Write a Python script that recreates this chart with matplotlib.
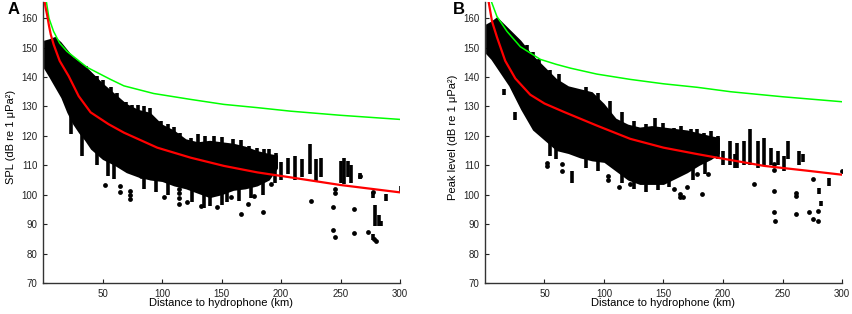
import numpy as np
import matplotlib
matplotlib.use("Agg")
import matplotlib.pyplot as plt

plt.rcParams['font.family'] = ['Liberation Sans', 'DejaVu Sans']

# ---- panel A (SPL) ----
a_red_km = [0.8, 2, 3.5, 5, 6.5, 9, 14, 21.6, 30, 40, 55, 68, 96, 124, 152, 180, 208, 250, 300]
a_red_db = [167, 164, 161, 157.5, 154.5, 151, 145.5, 140.3, 133.5, 128, 124, 121.1, 116, 112.6, 109.8, 107.6, 105.9, 103.3, 100.8]
a_grn_km = [2.8, 5, 8.9, 14, 20.2, 37, 56.7, 68, 93, 124, 152, 180, 208, 250, 300]
a_grn_db = [165.7, 160, 155.5, 151.5, 148.7, 143.3, 139.2, 137, 134.4, 132.4, 130.7, 129.6, 128.4, 127, 125.6]

# dense part of the cloud: distance, lower and upper edge
a_core_km = [0.5, 5, 10, 15, 20, 25, 30, 35, 40, 50, 60, 70, 80, 90, 100, 110, 120, 130, 140, 150, 160, 170, 180, 190, 197]
a_core_lo = [143, 140, 136.5, 133, 128, 124, 121, 118.5, 115.5, 112, 110, 107.5, 106, 105, 104.5, 103, 102, 100.5, 99, 100, 101.5, 102, 103, 105, 109]
a_core_hi = [152.5, 153, 153.8, 152, 149.5, 147, 145.5, 144, 142, 138, 134.5, 131, 129, 128, 124, 122, 119, 118, 118.5, 118, 117.5, 116.5, 115, 114, 113.5]

# vertical streaks of points: distance, low, high
a_streak_km = [23.5, 33, 36, 70, 75, 90, 99, 124, 143.6, 160, 166, 173, 186, 196,
               206, 212, 218, 224, 229, 234, 250, 253, 256, 259, 266, 277.5, 288.5, 301, 279, 282, 284, 277,
               45, 50, 57, 62, 80, 85, 105, 110, 115, 130, 136, 150, 180, 190,
               45, 55, 60, 85, 95, 105, 125, 135, 140, 150, 155, 165, 175, 185, 195, 200]
a_streak_lo = [120.6, 113, 137, 123, 123, 122, 120, 113, 113, 113, 113, 112, 111, 109,
               107, 105, 106, 107, 104.8, 106, 104, 103.7, 106, 104, 105.4, 99, 98, 101, 89.5, 89.5, 89.5, 84.5,
               130, 128, 126, 124, 120, 119, 115, 113, 112, 111, 111, 110, 108, 106,
               110, 106.5, 105.5, 102, 101, 100, 97.5, 95.5, 96, 96.5, 97.5, 98, 99, 100, 104, 105]
a_streak_hi = [132.8, 130, 143.7, 131.5, 130.5, 129.6, 125, 119.4, 120, 118.8, 118.5, 116.6, 115.5, 114.3,
               112.5, 113, 112, 117.2, 112, 112.6, 111.5, 112.5, 111.5, 110, 107.4, 100.8, 100.4, 102.8, 96.5, 93, 91, 86.5,
               140.5, 139, 136.5, 134.5, 130.5, 130, 124, 123, 121, 120.5, 119.8, 119.5, 116, 115.5,
               120, 115, 112, 108, 106, 106, 103, 100, 100, 101, 103, 103, 104, 106, 110, 111]

# scattered single points
a_pt_km = [52.5, 65, 65, 73.5, 73.5, 73.5, 82, 101.5, 114, 114, 114, 114, 121, 132.5, 146.6, 158, 166, 172,
           177, 184.5, 191.5, 225, 245, 245, 243.5, 261.5, 266, 243.5, 245, 261.5, 273, 277, 278, 280]
a_pt_db = [103.3, 103, 100.8, 101.4, 100, 98.5, 106.4, 99.1, 102, 100.5, 99, 97, 97.4, 96.3, 95.7, 99.1, 93.6, 96.9,
           99.7, 94, 103.7, 98, 102, 100.5, 95.7, 95.3, 106.4, 88, 85.5, 86.9, 87.3, 100.8, 85, 84.3]

# ---- panel B (peak level) ----
b_red_km = [2, 3, 5.9, 10.1, 17, 25.5, 38, 50, 66, 94, 122, 150, 178.5, 195, 234.5, 270, 300]
b_red_db = [170, 165.7, 158.9, 153.5, 145.5, 139.5, 134, 131, 128.2, 123.5, 119, 116, 113.8, 112.6, 109.8, 108.2, 106.8]
b_grn_km = [5.3, 10, 18.5, 29.7, 46.5, 60, 72, 94, 122, 150, 178.5, 206.5, 250, 300]
b_grn_db = [165.7, 160.6, 155.5, 150.3, 146, 144.3, 143, 141, 139.2, 137.7, 136.5, 135, 133.3, 131.6]

b_core_km = [0.5, 5, 10, 15, 20, 25, 30, 40, 50, 60, 70, 80, 90, 100, 110, 120, 130, 140, 150, 160, 170, 180, 190, 197]
b_core_lo = [148, 146, 143, 140, 137, 133, 129, 122, 118.5, 115, 114, 112.5, 111.5, 111, 108, 105, 103.5, 103.5, 103.5, 105.5, 107.5, 110, 112, 114]
b_core_hi = [158, 159, 160.5, 158.5, 156.5, 154.5, 152.5, 147.5, 143.5, 139.5, 137, 136, 135, 131, 126, 124, 123, 123.5, 123, 122.5, 122, 121, 120, 119.5]

b_streak_km = [16, 25, 35, 143, 158.5, 172.8, 184, 196, 206, 212, 218, 223, 229, 234.5, 240, 246, 251, 255, 264, 267, 73, 280.6, 282, 289,
               40, 45, 55, 62, 85, 95, 105, 115, 125, 135, 150, 165, 178, 190,
               55, 60, 85, 95, 115, 125, 135, 145, 155, 175, 185, 200, 210]
b_streak_lo = [134, 125.5, 145, 118, 115, 113, 113, 112, 110, 109, 110, 110, 109, 110, 110, 110, 108, 112, 110, 111, 104, 100.3, 96.3, 103,
               140, 138, 134, 133, 128, 126, 122, 120, 118, 118, 117, 116, 114, 113,
               113, 112, 109, 108, 104, 102, 101, 101.5, 102.5, 105, 107, 110, 109]
b_streak_hi = [136, 128, 151, 126.2, 122.8, 122.2, 121.1, 120, 118.3, 117.5, 118.3, 122.2, 118.3, 119.4, 116, 115, 113, 118.3, 115, 113.8, 108, 102.4, 98, 105.8,
               148.5, 146, 142.5, 141, 136.5, 134.5, 132, 128, 125, 124, 124.5, 123.5, 122.5, 121.5,
               118, 116, 113, 112, 110, 106, 105, 105, 106, 110, 112, 115, 114]

b_pt_km = [52, 52, 65, 65, 103, 103, 113, 122, 158.5, 166, 170, 178.5, 182.6, 164, 164, 187, 226, 243, 243, 244,
           261, 261, 261, 276, 279.5, 272, 276, 280, 299.7, 243, 243]
b_pt_db = [109.8, 110.9, 110.4, 107.9, 106.4, 105, 102.5, 103.7, 102, 99.1, 102.5, 107, 100.3, 100.3, 99.1, 107, 103.7, 101.4, 94, 91.2,
           100.6, 99.6, 93.6, 105.3, 94.6, 94, 91.8, 91.2, 108.1, 110.6, 108.5]

panels = [
    ("A", "SPL (dB re 1 \u03bcPa\u00b2)", a_red_km, a_red_db, a_grn_km, a_grn_db, a_core_km, a_core_lo, a_core_hi,
     a_streak_km, a_streak_lo, a_streak_hi, a_pt_km, a_pt_db),
    ("B", "Peak level (dB re 1 \u03bcPa\u00b2)", b_red_km, b_red_db, b_grn_km, b_grn_db, b_core_km, b_core_lo, b_core_hi,
     b_streak_km, b_streak_lo, b_streak_hi, b_pt_km, b_pt_db),
]

fig = plt.figure(figsize=(8.53, 3.14), dpi=100)
lefts = [43 / 853, 485 / 853]
letter_x = [8 / 853, 453 / 853]

for i, p in enumerate(panels):
    (letter, ylab, rk, rd, gk, gd, ck, clo, chi, sk, slo, shi, pk, pd) = p
    ax = fig.add_axes([lefts[i], 31 / 314, 357 / 853, 281 / 314])

    ax.fill_between(ck, clo, chi, color='black', linewidth=0, zorder=2)
    ax.vlines(sk, slo, shi, color='black', linewidth=2.6, zorder=2)
    ax.scatter(pk, pd, s=12, color='black', marker='o', linewidths=0, zorder=2)
    ax.plot(gk, gd, color='#00ff00', linewidth=1.1, zorder=3)
    ax.plot(rk, rd, color='#ff0000', linewidth=1.6, zorder=4)

    ax.set_xlim(0, 300)
    ax.set_ylim(70, 165.5)
    ax.set_xticks([50, 100, 150, 200, 250, 300])
    ax.set_yticks(range(70, 161, 10))
    ax.tick_params(direction='in', length=3, width=0.8, labelsize=7, pad=4, colors='#222222')
    for s in ['top', 'right']:
        ax.spines[s].set_visible(False)
    for s in ['left', 'bottom']:
        ax.spines[s].set_color('#333333')
        ax.spines[s].set_linewidth(1.0)

    ax.set_xlabel("Distance to hydrophone (km)", fontsize=8)
    ax.set_ylabel(ylab, fontsize=8)
    ax.xaxis.set_label_coords(0.5, -0.055)
    ax.yaxis.set_label_coords(-0.075, 0.52)

    fig.text(letter_x[i], 1 - 9 / 314, letter, fontsize=12, fontweight='bold', va='center', ha='left')

fig.savefig("out.png", dpi=100)
